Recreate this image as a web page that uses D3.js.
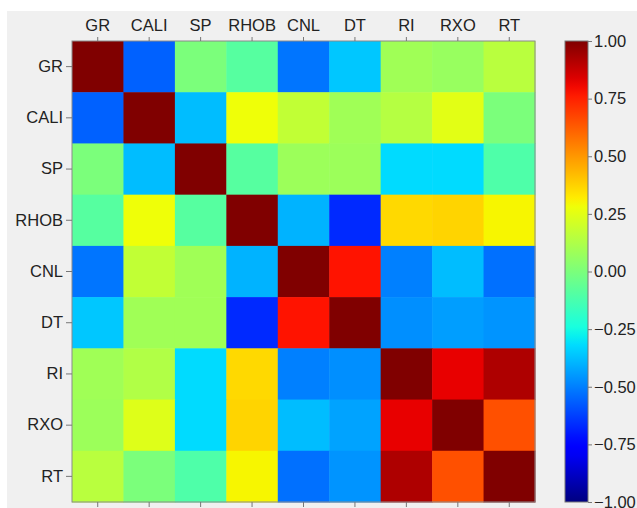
<!DOCTYPE html>
<html><head><meta charset="utf-8">
<script src="https://cdn.jsdelivr.net/npm/d3@7"></script>
<style>html,body{margin:0;padding:0;background:#fff}</style>
</head><body><svg id="c" width="637" height="508"></svg>
<script>
const labels = ["GR","CALI","SP","RHOB","CNL","DT","RI","RXO","RT"];
const rowGR   = [1.00,-0.56, 0.00,-0.09,-0.52,-0.36, 0.09, 0.07, 0.15];
const rowCALI = [-0.56,1.00,-0.38, 0.28, 0.17, 0.09, 0.14, 0.25, 0.00];
const rowSP   = [0.00,-0.38, 1.00,-0.09, 0.08, 0.08,-0.32,-0.32,-0.11];
const rowRHOB = [-0.09,0.28,-0.09, 1.00,-0.40,-0.67, 0.36, 0.37, 0.30];
const rowCNL  = [-0.52,0.17, 0.09,-0.40, 1.00, 0.78,-0.50,-0.38,-0.53];
const rowDT   = [-0.36,0.09, 0.09,-0.67, 0.78, 1.00,-0.47,-0.44,-0.46];
const rowRI   = [0.09, 0.13,-0.32, 0.36,-0.50,-0.47, 1.00, 0.82, 0.92];
const rowRXO  = [0.08, 0.24,-0.32, 0.37,-0.38,-0.43, 0.82, 1.00, 0.65];
const rowRT   = [0.15, 0.00,-0.11, 0.30,-0.53,-0.46, 0.92, 0.65, 1.00];
const matrix = [rowGR,rowCALI,rowSP,rowRHOB,rowCNL,rowDT,rowRI,rowRXO,rowRT];
const cbTicks = [1.00,0.75,0.50,0.25,0.00,-0.25,-0.50,-0.75,-1.00];

// matplotlib jet
function seg(pts, x){
  for(let i=1;i<pts.length;i++){
    if(x<=pts[i][0]){const [x0,y0]=pts[i-1],[x1,y1]=pts[i];return y0+(y1-y0)*(x-x0)/(x1-x0);}
  }
  return pts[pts.length-1][1];
}
const R=[[0,0],[0.35,0],[0.66,1],[0.89,1],[1,0.5]];
const G=[[0,0],[0.125,0],[0.375,1],[0.64,1],[0.91,0],[1,0]];
const B=[[0,0.5],[0.11,1],[0.34,1],[0.65,0],[1,0]];
function jet(t){t=Math.max(0,Math.min(1,t));
  return d3.rgb(255*seg(R,t),255*seg(G,t),255*seg(B,t)).toString();}
const color = v => jet((v+1)/2);

const svg = d3.select("#c");
const font = "'Liberation Sans', Arial, sans-serif";
svg.append("rect").attr("x",7).attr("y",11).attr("width",630).attr("height",497).attr("fill","#f0f0f0");

const L=72, T=41, W=463, H=461;
const x = d3.scaleBand().domain(labels).range([L,L+W]);
const y = d3.scaleBand().domain(labels).range([T,T+H]);

const cells=[];
matrix.forEach((row,i)=>row.forEach((v,j)=>cells.push({r:labels[i],c:labels[j],v})));
svg.append("g").selectAll("rect").data(cells).join("rect")
  .attr("x",d=>x(d.c)).attr("y",d=>y(d.r))
  .attr("width",x.bandwidth()+0.5).attr("height",y.bandwidth()+0.5)
  .attr("fill",d=>color(d.v));
svg.append("rect").attr("x",L).attr("y",T).attr("width",W).attr("height",H)
  .attr("fill","none").attr("stroke","#8a8a8a").attr("stroke-width",1);

function styleAxis(g){
  g.select(".domain").remove();
  g.selectAll(".tick line").attr("stroke","#777");
  g.selectAll(".tick text").attr("fill","#222").style("font-family",font).style("font-size","16.5px");
}
svg.append("g").attr("transform",`translate(0,${T})`)
  .call(d3.axisTop(x).tickSize(4).tickPadding(6)).call(styleAxis);
svg.append("g").attr("transform",`translate(${L},0)`)
  .call(d3.axisLeft(y).tickSize(6).tickPadding(3)).call(styleAxis);
svg.append("g").attr("transform",`translate(0,${T+H})`)
  .call(d3.axisBottom(x).tickSize(5).tickFormat("")).call(styleAxis);

// colorbar
const cbX=565, cbW=23;
const cy = d3.scaleLinear().domain([-1,1]).range([T+H,T]);
const defs = svg.append("defs");
const grad = defs.append("linearGradient").attr("id","jetg").attr("x1",0).attr("y1",1).attr("x2",0).attr("y2",0);
d3.range(0,1.0001,0.02).forEach(t=>grad.append("stop").attr("offset",t).attr("stop-color",jet(t)));
svg.append("rect").attr("x",cbX).attr("y",T).attr("width",cbW).attr("height",H)
  .attr("fill","url(#jetg)").attr("stroke","#777").attr("stroke-width",1);
svg.append("g").attr("transform",`translate(${cbX+cbW},0)`)
  .call(d3.axisRight(cy).tickValues(cbTicks).tickFormat(d3.format(".2f")).tickSize(4).tickPadding(2))
  .call(styleAxis);
</script></body></html>
